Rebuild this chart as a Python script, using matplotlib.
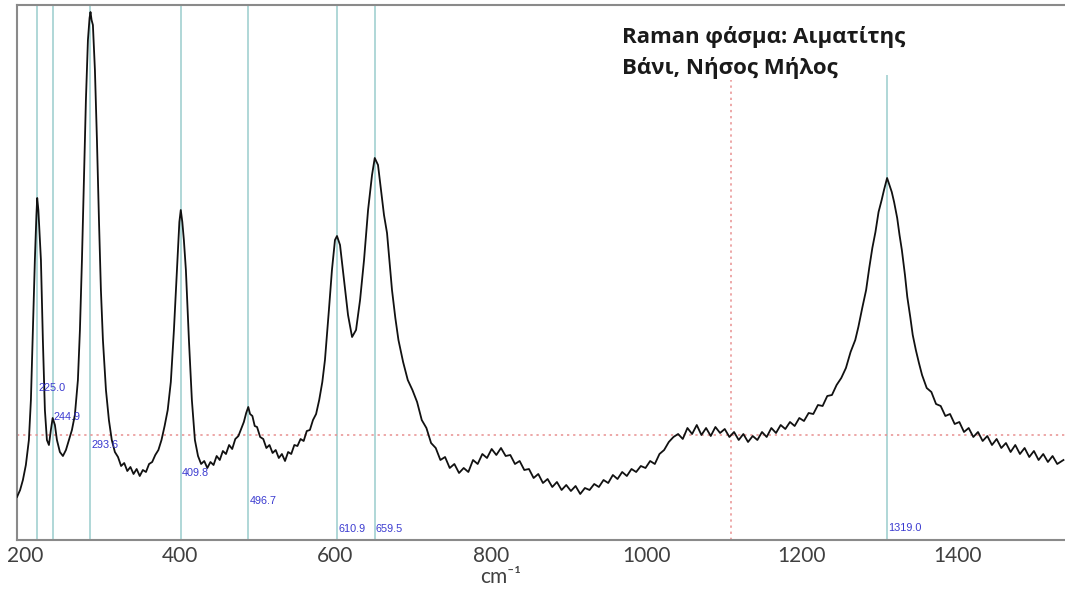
import matplotlib
matplotlib.use('Agg')
import matplotlib.pyplot as plt
from matplotlib.transforms import ScaledTranslation

# Raman shift (cm-1) and intensity (arbitrary units)
shift = [199, 203, 206.6, 210.4, 214.3, 216.9, 219.5, 222.0, 224.0, 225.0, 226.5, 229.8, 232.3, 234.9,
         237.5, 240.1, 242.6, 244.9, 247.8, 250.4, 254.2, 258.1, 262.0, 265.8, 269.7, 273.5, 277.4,
         280.0, 282.6, 285.1, 287.7, 290.3, 292.4, 293.6, 295.0, 296.7, 299.3, 301.9, 304.5, 307.0,
         309.6, 313.5, 317.3,
         321, 325, 329, 333, 337, 341, 345, 349, 353, 357, 361, 365, 369, 373, 377, 381, 385, 389,
         393, 397,
         401.0, 404.9, 408.0, 409.8, 411.8, 413.8, 416.4, 420.3, 424.1,
         428, 432, 436, 440, 444, 448, 452, 456, 460, 464, 468, 472, 476, 480, 484, 488, 491, 494,
         496.7, 499, 502, 505, 508, 512, 516, 520, 524, 528, 532, 536, 540, 544, 548, 552, 556, 560,
         564, 568, 572, 576, 580, 584, 588,
         592, 595.4, 600.5, 604.4, 608.3, 610.9, 614.8, 620.0, 625.1, 630.3, 635.4, 640.6, 645.7,
         650.9, 656.0, 659.5, 663.7, 667.5, 671.4, 675.3, 681.7, 686,
         690, 696, 702, 708, 714, 720, 726, 732, 738, 744, 750, 756, 762, 768, 774, 780, 786, 792,
         798, 804, 810, 816, 822, 828, 834, 840, 846, 852, 858, 864, 870, 876, 882, 888, 894, 900,
         906, 912, 918, 924, 930, 936, 942, 948, 954, 960, 966, 972, 978, 984, 990, 996, 1002, 1008,
         1014, 1020, 1026, 1032, 1038, 1044, 1050, 1056, 1062, 1068, 1074, 1080, 1086, 1092, 1098,
         1104, 1110, 1116, 1122, 1128, 1134, 1140, 1146, 1152, 1158, 1164, 1170, 1176, 1182, 1188,
         1194, 1200, 1206, 1212, 1218, 1224, 1230, 1236, 1242, 1248, 1254, 1260, 1266, 1272,
         1278, 1282, 1287, 1292, 1296, 1300, 1304, 1308, 1312, 1315, 1317, 1319, 1322, 1325, 1328,
         1332, 1335, 1338, 1342, 1345, 1349, 1352, 1356, 1360,
         1364, 1370, 1376, 1382, 1388, 1394, 1400, 1406, 1412, 1418, 1424, 1430, 1436, 1442, 1448,
         1454, 1460, 1466, 1472, 1478, 1484, 1490, 1496, 1502, 1508, 1514, 1520, 1526, 1532, 1538,
         1546]
intensity = [43, 50, 60, 75, 100, 140, 210, 280, 325, 342, 330, 280, 200, 130,
             100, 95, 110, 122, 115, 100, 88, 84, 90, 100, 110, 125, 160,
             210, 280, 360, 440, 500, 522, 528, 520, 515, 470, 400, 320, 250,
             200, 150, 120,
             100, 88, 83, 74, 77, 69, 73, 66, 71, 64, 70, 68, 76, 78, 85, 90, 100, 114,
             130, 158,
             210, 270, 318, 330, 318, 300, 270, 200, 140,
             100, 84, 76, 79, 72, 78, 75, 84, 80, 89, 86, 95, 91, 101, 104, 112, 118, 127,
             133, 126, 124, 114, 113, 103, 101, 92, 95, 87, 90, 82, 86, 79, 88, 86, 95, 94,
             101, 99, 109, 110, 120, 126, 140,
             158, 180, 230, 270, 300, 304, 295, 260, 225, 203, 210, 240, 280,
             330, 365, 382, 375, 350, 325, 307, 250, 222,
             200, 178, 160, 150, 138, 120, 112, 97, 92, 80, 83, 72, 76, 67, 72, 68, 80, 76,
             86, 82, 91, 85, 92, 84, 85, 76, 79, 70, 71, 62, 66, 57, 61, 53, 58, 50,
             55, 49, 54, 46, 52, 50, 56, 53, 60, 57, 65, 61, 68, 64, 71, 68, 74, 72,
             79, 76, 86, 90, 98, 103, 106, 101, 112, 106, 115, 105, 112, 104, 113,
             107, 111, 103, 108, 100, 106, 98, 104, 100, 108, 103, 112, 107, 115, 111,
             118, 114, 122, 119, 127, 126, 135, 134, 144, 145, 155, 162, 172, 188,
             200, 213, 232, 250, 272, 292, 308, 328, 340, 350, 356, 362, 355, 348, 338,
             322, 305, 290, 265, 243, 222, 205, 190, 177,
             165, 152, 148, 136, 134, 124, 126, 116, 118, 108, 112, 103, 108, 99, 104,
             95, 101, 92, 97, 88, 95, 86, 92, 83, 89, 80, 86, 78, 84, 76,
             80]

# fitted band positions and their label heights
peaks = [225.0, 244.9, 293.6, 409.8, 496.7, 610.9, 659.5, 1319.0]
peak_label_y = [152, 123, 95, 67, 39, 11, 11, 12]
cursor_x = 1118
cursor_y = 105

fig = plt.figure(figsize=(10.65, 5.97), dpi=100)
ax = fig.add_axes([17/1065, 57/597, 1048/1065, 535/597])

ymax = 535
for p in peaks:
    top = 465 if p > 1000 else ymax
    ax.vlines(p, 0, top, color='#a9d4d4', lw=1.3, zorder=1)

ax.axhline(cursor_y, color='#e89090', lw=1.1, ls=(0, (1.5, 2.5)), zorder=1)
ax.vlines(cursor_x, 0, 460, color='#e89090', lw=1.1, ls=(0, (1.5, 2.5)), zorder=1)

ax.plot(shift, intensity, color='#111111', lw=1.3, zorder=3)

for p, ly in zip(peaks, peak_label_y):
    ax.text(p + 1.5, ly, '%.1f' % p, color='#3a3ad0', fontsize=7.8,
            family='Liberation Sans', ha='left', va='center', zorder=4)

ax.text(978, 503, 'Raman φάσμα: Αιματίτης', fontsize=16, fontweight='bold',
        family='Open Sans', color='#1a1a1a', ha='left', va='center')
ax.text(978, 472, 'Βάνι, Νήσος Μήλος', fontsize=16, fontweight='bold',
        family='Open Sans', color='#1a1a1a', ha='left', va='center')

ax.set_xlim(199, 1548)
ax.set_ylim(0, ymax)
ax.set_xticks([200, 400, 600, 800, 1000, 1200, 1400])
ax.set_yticks([])
ax.tick_params(axis='x', length=0, pad=4, labelsize=15, labelcolor='#404040')
shift_right = ScaledTranslation(7/100, 0, fig.dpi_scale_trans)
for lab in ax.get_xticklabels():
    lab.set_family('Lato')
    lab.set_transform(lab.get_transform() + shift_right)

ax.set_xlabel('cm⁻¹', fontsize=15, color='#404040', family=['Lato', 'DejaVu Sans'])
ax.xaxis.label.set_va('center')
ax.xaxis.set_label_coords(0.461, -0.069)

for side in ['left', 'top', 'bottom']:
    ax.spines[side].set_color('#8a8a8a')
    ax.spines[side].set_linewidth(1.5)
ax.spines['right'].set_visible(False)

fig.savefig('out.png', dpi=100)
